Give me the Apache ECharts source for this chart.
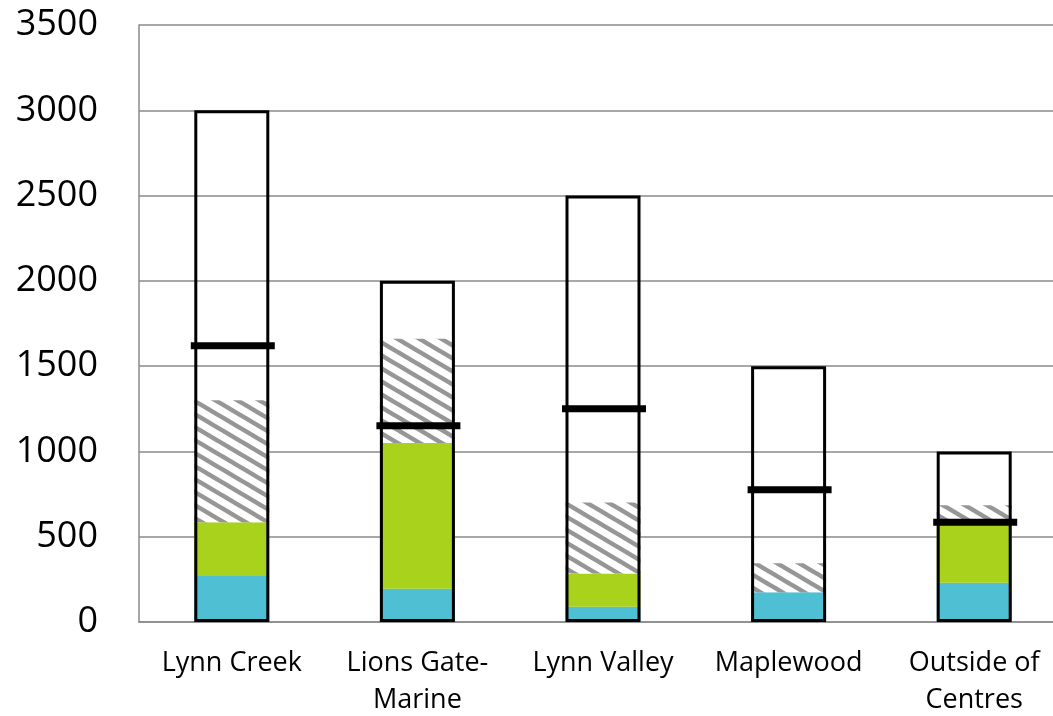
<!DOCTYPE html>
<html>
<head>
<meta charset="utf-8">
<style>
  html, body { margin: 0; padding: 0; background: #ffffff; }
  #chart { width: 1053px; height: 716px; }
</style>
<script src="https://cdn.jsdelivr.net/npm/echarts@6/dist/echarts.min.js"></script>
</head>
<body>
<div id="chart"></div>
<script>
// Areas and their dwelling-unit figures
const categories = ['Lynn Creek', 'Lions Gate-\nMarine', 'Lynn Valley', 'Maplewood', 'Outside of\nCentres'];
const completed  = [270, 195, 90, 175, 230];   // blue segment
const underway   = [315, 855, 195, 0, 350];    // green segment
const proposed   = [715, 610, 415, 170, 105];  // hatched segment
const capacity   = [3000, 2000, 2500, 1500, 1000]; // outlined total
const target     = [1620, 1150, 1250, 775, 585];   // black bar marker
const yTicks     = [0, 500, 1000, 1500, 2000, 2500, 3000, 3500];

// Diagonal hatch pattern tile
function hatchPattern() {
  const w = 22, h = 13;
  const c = document.createElement('canvas');
  c.width = w; c.height = h;
  const ctx = c.getContext('2d');
  ctx.fillStyle = '#ffffff';
  ctx.fillRect(0, 0, w, h);
  ctx.strokeStyle = '#969696';
  ctx.lineWidth = 4.5;
  for (let k = -2; k <= 2; k++) {
    ctx.beginPath();
    ctx.moveTo(-w, -h + k * h);
    ctx.lineTo(2 * w, 2 * h + k * h);
    ctx.stroke();
  }
  return { image: c, repeat: 'repeat' };
}

const chart = echarts.init(document.getElementById('chart'), null, { renderer: 'canvas' });
const BAR_W = 75;
const gridLine = '#8a8a8a';

chart.setOption({
  animation: false,
  backgroundColor: '#ffffff',
  // plot area runs a little past the right edge of the canvas
  grid: { left: 139, top: 25, width: 928, height: 597, containLabel: false, outerBoundsMode: 'none' },
  xAxis: {
    type: 'category',
    data: categories,
    axisLine: { show: true, lineStyle: { color: gridLine, width: 1.5 } },
    axisTick: { show: false },
    axisLabel: {
      color: '#000000',
      fontFamily: 'Open Sans',
      fontSize: 27,
      lineHeight: 37,
      margin: 23,
      interval: 0
    }
  },
  yAxis: {
    type: 'value',
    min: 0,
    max: 3500,
    interval: 500,
    axisLine: { show: true, lineStyle: { color: gridLine, width: 1.5 } },
    axisTick: { show: false },
    splitLine: { show: true, lineStyle: { color: gridLine, width: 1.5 } },
    axisLabel: {
      color: '#000000',
      fontFamily: 'Open Sans',
      fontSize: 36,
      margin: 41,
      formatter: function (v) { return yTicks.indexOf(v) >= 0 ? String(v) : ''; }
    }
  },
  series: [
    {
      type: 'bar', stack: 'units', data: completed, barWidth: BAR_W, barGap: '-100%',
      itemStyle: { color: '#4fbfd3' }, z: 2
    },
    {
      type: 'bar', stack: 'units', data: underway, barWidth: BAR_W, barGap: '-100%',
      itemStyle: { color: '#a9d21c' }, z: 2
    },
    {
      type: 'bar', stack: 'units', data: proposed, barWidth: BAR_W, barGap: '-100%',
      itemStyle: { color: hatchPattern() }, z: 2
    },
    {
      type: 'bar', data: capacity, barWidth: BAR_W, barGap: '-100%',
      itemStyle: { color: 'rgba(0,0,0,0)', borderColor: '#000000', borderWidth: 3 }, z: 3
    },
    {
      type: 'scatter', data: target, symbol: 'rect', symbolSize: [84, 7], symbolOffset: [1, 0],
      itemStyle: { color: '#000000', opacity: 1 }, z: 4
    }
  ]
});
</script>
</body>
</html>
